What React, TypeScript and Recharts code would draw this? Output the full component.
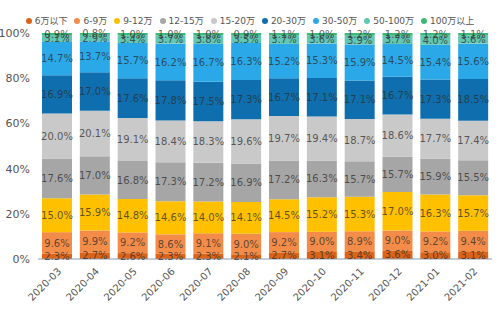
import { BarChart, Bar, XAxis, YAxis, LabelList } from "recharts";

const months = [
  "2020-03", "2020-04", "2020-05", "2020-06", "2020-07", "2020-08",
  "2020-09", "2020-10", "2020-11", "2020-12", "2021-01", "2021-02",
];

const under6 = [2.3, 2.7, 2.6, 2.3, 2.3, 2.1, 2.7, 3.1, 3.4, 3.6, 3.0, 3.1];
const r6to9 = [9.6, 9.9, 9.2, 8.6, 9.1, 9.0, 9.2, 9.0, 8.9, 9.0, 9.2, 9.4];
const r9to12 = [15.0, 15.9, 14.8, 14.6, 14.0, 14.1, 14.5, 15.2, 15.3, 17.0, 16.3, 15.7];
const r12to15 = [17.6, 17.0, 16.8, 17.3, 17.2, 16.9, 17.2, 16.3, 15.7, 15.7, 15.9, 15.5];
const r15to20 = [20.0, 20.1, 19.1, 18.4, 18.3, 19.6, 19.7, 19.4, 18.7, 18.6, 17.7, 17.4];
const r20to30 = [16.9, 17.0, 17.6, 17.8, 17.5, 17.3, 16.7, 17.1, 17.1, 16.7, 17.3, 18.5];
const r30to50 = [14.7, 13.7, 15.7, 16.2, 16.7, 16.3, 15.2, 15.3, 15.9, 14.5, 15.4, 15.6];
const r50to100 = [3.1, 2.9, 3.4, 3.7, 3.8, 3.5, 3.7, 3.6, 3.9, 3.7, 4.0, 3.6];
const over100 = [0.9, 0.8, 1.0, 1.0, 1.0, 0.9, 1.1, 1.0, 1.2, 1.2, 1.2, 1.1];

const seriesNames = ["6万以下", "6-9万", "9-12万", "12-15万", "15-20万", "20-30万", "30-50万", "50-100万", "100万以上"];
const seriesValues = [under6, r6to9, r9to12, r12to15, r15to20, r20to30, r30to50, r50to100, over100];
const colors = ["#dc6418", "#f28c48", "#ffc000", "#a6a6a6", "#c9c9c9", "#0f6fae", "#2aa8e8", "#62c7b3", "#3cb878"];

const yTicks = [0, 0.2, 0.4, 0.6, 0.8, 1];

const data = months.map((month, i) => {
  const row: Record<string, string | number> = { month };
  seriesNames.forEach((name, s) => {
    row[name] = seriesValues[s][i];
  });
  return row;
});

const font = "'DejaVu Sans', 'Noto Sans CJK SC', sans-serif";

function TopLegend() {
  return (
    <div
      style={{
        position: "absolute",
        left: 0,
        top: 15,
        width: 500,
        display: "flex",
        justifyContent: "center",
        gap: 7,
        fontSize: 9,
        color: "#555",
        fontFamily: font,
        lineHeight: "12px",
      }}
    >
      {seriesNames.map((name, s) => (
        <div key={name} style={{ display: "flex", alignItems: "center" }}>
          <span
            style={{
              width: 6,
              height: 6,
              borderRadius: 3,
              background: colors[s],
              marginRight: 3,
              display: "inline-block",
            }}
          />
          <span>{name}</span>
        </div>
      ))}
    </div>
  );
}

export default function App() {
  return (
    <div style={{ position: "absolute", left: 0, top: 0, width: 500, height: 333, fontFamily: font }}>
      <BarChart
        width={500}
        height={333}
        data={data}
        stackOffset="expand"
        margin={{ top: 33, right: 8, left: 0, bottom: 4 }}
      >
        <XAxis
          dataKey="month"
          height={70}
          interval={0}
          angle={-45}
          textAnchor="end"
          tickLine={false}
          axisLine={{ stroke: "#8e9cae" }}
          tick={{ fontSize: 10, fill: "#555", fontFamily: font }}
        />
        <YAxis
          width={38}
          ticks={yTicks}
          domain={[0, 1]}
          tickLine={false}
          axisLine={false}
          tickFormatter={(v: number) => `${Math.round(v * 100)}%`}
          tick={{ fontSize: 11, fill: "#555", fontFamily: font }}
        />
        {seriesNames.map((name, s) => (
          <Bar
            key={name}
            dataKey={name}
            stackId="a"
            fill={colors[s]}
            barSize={30}
            isAnimationActive={false}
          >
            <LabelList
              dataKey={name}
              position="center"
              formatter={(v: number) => `${Number(v).toFixed(1)}%`}
              style={{ fontSize: 10, fill: "rgba(45,45,45,0.75)", fontFamily: font }}
            />
          </Bar>
        ))}
      </BarChart>
      <TopLegend />
    </div>
  );
}
